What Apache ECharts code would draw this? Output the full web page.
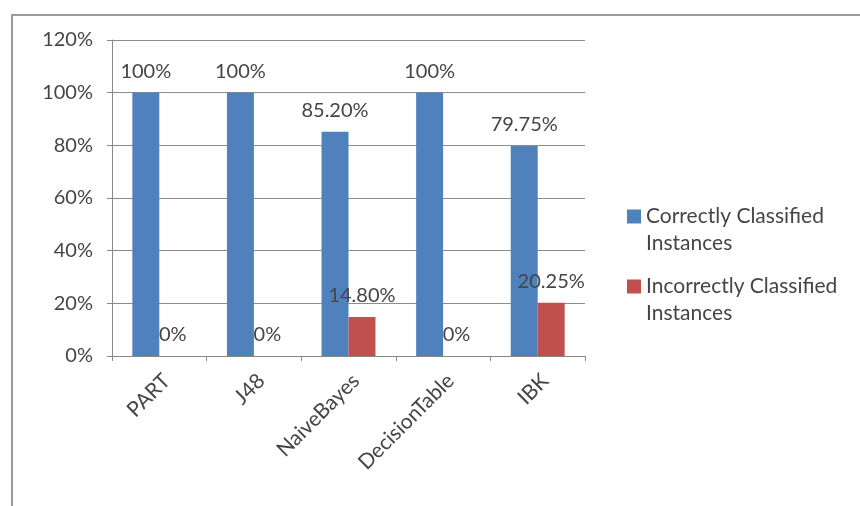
<!DOCTYPE html>
<html>
<head>
<meta charset="utf-8">
<script src="https://cdn.jsdelivr.net/npm/echarts@6/dist/echarts.min.js"></script>
<style>
html,body{margin:0;padding:0;background:#fff;}
#c{width:860px;height:506px;}
</style>
</head>
<body>
<div id="c"></div>
<script>
const categories = ['PART', 'J48', 'NaiveBayes', 'DecisionTable', 'IBK'];
const correct = [100, 100, 85.20, 100, 79.75];
const incorrect = [0, 0, 14.80, 0, 20.25];
const correctLabels = ['100%', '100%', '85.20%', '100%', '79.75%'];
const incorrectLabels = ['0%', '0%', '14.80%', '0%', '20.25%'];
const seriesNames = ['Correctly Classified\nInstances', 'Incorrectly Classified\nInstances'];

const FONT = 'Lato';
const TXT = '#454545';
const chart = echarts.init(document.getElementById('c'));
chart.setOption({
  animation: false,
  backgroundColor: '#ffffff',
  textStyle: { fontFamily: FONT },
  graphic: [{
    type: 'rect',
    shape: { x: 12, y: 15, width: 900, height: 520 },
    style: { fill: 'none', stroke: '#9a9a9a', lineWidth: 2 },
    silent: true
  }],
  grid: { left: 112, right: 275, top: 40, bottom: 150 },
  legend: {
    orient: 'vertical',
    left: 622,
    top: 198,
    itemWidth: 14,
    itemHeight: 41,
    itemGap: 16,
    icon: 'path://M0,0h14v14h-14z M0,41h0.01v0.01h-0.01z',
    data: seriesNames,
    textStyle: {
      fontFamily: FONT, fontSize: 21, color: TXT, lineHeight: 27
    }
  },
  xAxis: {
    type: 'category',
    data: categories,
    axisLine: { lineStyle: { color: '#888888', width: 1 } },
    axisTick: { show: true, length: 5, lineStyle: { color: '#888888' } },
    axisLabel: { rotate: 45, fontSize: 21, color: TXT, fontFamily: FONT, margin: 14, verticalAlign: 'top' }
  },
  yAxis: {
    type: 'value',
    min: 0, max: 120, interval: 20,
    axisLine: { show: true, lineStyle: { color: '#888888' } },
    axisTick: { show: true, length: 5, lineStyle: { color: '#888888' } },
    splitLine: { lineStyle: { color: '#8c8c8c', width: 1 } },
    axisLabel: { formatter: '{value}%', fontSize: 20, color: TXT, fontFamily: FONT, margin: 19 }
  },
  series: [{
    name: seriesNames[0],
    type: 'bar',
    data: correct,
    barWidth: '28.5%',
    barGap: '0%',
    itemStyle: { color: '#4F81BD' },
    label: {
      show: true, position: 'top', distance: 11,
      fontSize: 20, color: TXT, fontFamily: FONT,
      formatter: p => correctLabels[p.dataIndex]
    }
  }, {
    name: seriesNames[1],
    type: 'bar',
    data: incorrect,
    barWidth: '28.5%',
    barGap: '0%',
    itemStyle: { color: '#C0504D' },
    label: {
      show: true, position: 'top', distance: 11,
      fontSize: 20, color: TXT, fontFamily: FONT,
      formatter: p => incorrectLabels[p.dataIndex]
    }
  }]
});
</script>
</body>
</html>
